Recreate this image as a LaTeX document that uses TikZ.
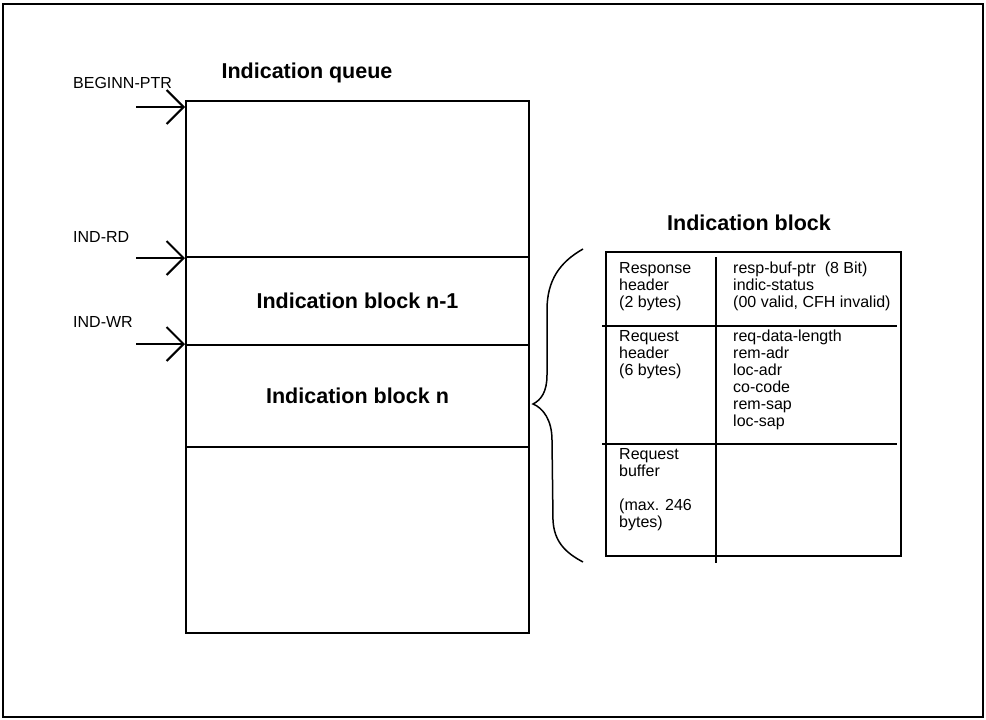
\documentclass[tikz,border=0pt]{standalone}
\usepackage{fontspec}
\setmainfont{Liberation Sans}
\usepackage{tikz}
\usetikzlibrary{arrows.meta}
\tikzset{
	queue/.style={draw, line width=2pt, anchor=north west, minimum width=343pt, inner sep=0pt},
	heading/.style={font=\fontsize{21.5}{24}\selectfont\bfseries},
	ptrlabel/.style={font=\fontsize{16}{17}\selectfont, anchor=west, inner sep=0pt},
	cell/.style={font=\fontsize{16}{17}\selectfont, align=left, anchor=north west, inner sep=0pt},
	ptrarrow/.style={-{Straight Barb[length=17pt,width=34pt]}, line width=2pt},
}

\begin{document}
\begin{tikzpicture}[x=1pt, y=-1pt]
		\useasboundingbox (0,0) rectangle (986,720);
		\draw [line width=1.3pt] (3,4) rectangle (983,717);
		\draw [line width=2pt] (3,717) -- (983,717);
		%
		\node [heading] (qtitle) at (307,73) {Indication queue};
		\node [queue, minimum height=156pt] (qhead) at (185,100) {};
		\node [queue, heading, minimum height=88pt] (qprev) at (185,256) {Indication block n-1};
		\node [queue, heading, minimum height=102pt] (qcur) at (185,344) {Indication block n};
		\node [queue, minimum height=186pt] (qfree) at (185,446) {};
		%
		\coordinate (beginn) at ([yshift=-7pt]qhead.north west);
		\coordinate (indrd) at ([yshift=-2pt]qprev.north west);
		\coordinate (indwr) at (qcur.north west);
		\node [ptrlabel] (beginnlbl) at (73,83) {BEGINN-PTR};
		\node [ptrlabel] (indrdlbl) at (73,237) {IND-RD};
		\node [ptrlabel] (indwrlbl) at (73,322) {IND-WR};
		\draw [ptrarrow] ([xshift=-49pt]beginn) -- (beginn);
		\draw [ptrarrow] ([xshift=-49pt]indrd) -- (indrd);
		\draw [ptrarrow] ([xshift=-49pt]indwr) -- (indwr);
		%
		\node [heading] (btitle) at (749,223) {Indication block};
		\node [draw, line width=2pt, anchor=north west, minimum width=295pt, minimum height=304pt, inner sep=0pt] (iblock) at (605,251) {};
		\draw [line width=2pt] (716,257) -- (716,563);
		\draw [line width=2pt] (602,326) -- (897,326);
		\draw [line width=2pt] (602,444) -- (897,444);
		\node [cell] (resphdr) at (619,262) {Response\\header\\(2 bytes)};
		\node [cell] (respfld) at (733,262) {resp-buf-ptr\ \ (8 Bit)\\indic-status\\(00 valid, CFH invalid)};
		\node [cell] (reqhdr) at (619,330) {Request\\header\\(6 bytes)};
		\node [cell] (reqfld) at (733,330) {req-data-length\\rem-adr\\loc-adr\\co-code\\rem-sap\\loc-sap};
		\node [cell] (reqbuf) at (619,448) {Request\\buffer\\[17pt](max. 246\\bytes)};
		%
		\draw [line width=1.5pt] (583,249) .. controls (560,262) and (547,280) .. (547,310) -- (547,375)
			.. controls (547,392) and (541,400) .. (533,404)
			.. controls (543,408) and (552,420) .. (552,440) -- (553,520)
			.. controls (554,542) and (566,553) .. (583,562);
	\end{tikzpicture}
\end{document}
